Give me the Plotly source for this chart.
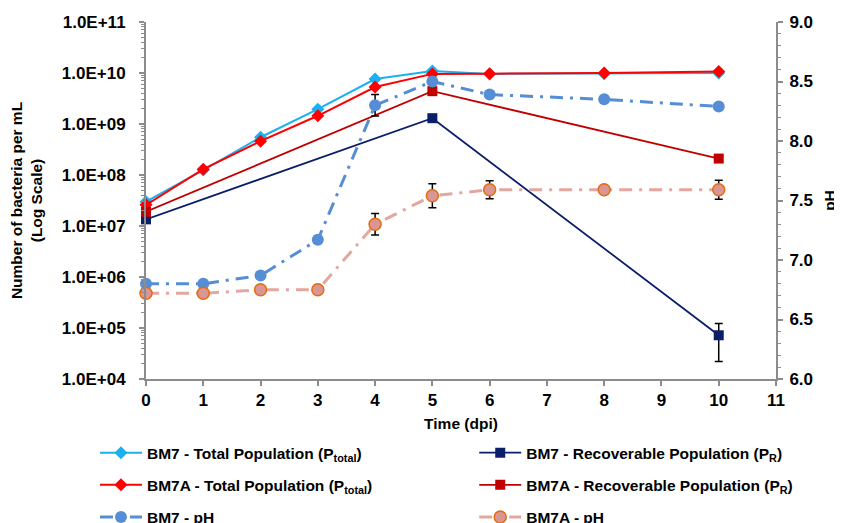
import plotly.graph_objects as go

# ---------------- data ----------------
days_total = [0, 1, 2, 3, 4, 5, 6, 8, 10]
bm7_total = [3.0e7, 1.25e8, 5.5e8, 1.95e9, 7.6e9, 1.1e10, 9.6e9, 9.7e9, 1.0e10]
bm7a_total = [2.6e7, 1.3e8, 4.6e8, 1.45e9, 5.3e9, 9.6e9, 9.7e9, 1.0e10, 1.07e10]

days_recov = [0, 5, 10]
bm7_recov = [1.35e7, 1.3e9, 7.2e4]
bm7_recov_err = [0, 2.0e8, 5.0e4]
bm7a_recov = [1.9e7, 4.4e9, 2.1e8]

days_ph = [0, 1, 2, 3, 4, 5, 6, 8, 10]
bm7_ph = [6.80, 6.80, 6.87, 7.17, 8.30, 8.50, 8.39, 8.35, 8.29]
bm7_ph_err = [0.0, 0.0, 0.02, 0.03, 0.09, 0.0, 0.0, 0.0, 0.0]
bm7a_ph = [6.72, 6.72, 6.75, 6.75, 7.30, 7.54, 7.59, 7.59, 7.59]
bm7a_ph_err = [0.0, 0.02, 0.02, 0.02, 0.09, 0.10, 0.075, 0.0, 0.08]

log_ticks = [1e4, 1e5, 1e6, 1e7, 1e8, 1e9, 1e10, 1e11]
log_tick_text = ["1.0E+04", "1.0E+05", "1.0E+06", "1.0E+07",
                 "1.0E+08", "1.0E+09", "1.0E+10", "1.0E+11"]

# ---------------- styling ----------------
FONT = "Liberation Sans, Arial, sans-serif"
AX = "#8c8c8c"
C_BM7_TOT = "#1CB0F0"
C_BM7A_TOT = "#FF0000"
C_BM7_REC = "#0A1E6A"
C_BM7A_REC = "#C00000"
C_BM7_PH = "#558ED5"
C_BM7A_PH_LINE = "#E3A79F"
C_BM7A_PH_FILL = "#D99694"
C_BM7A_PH_EDGE = "#E46C0A"
DASH = "13px,7px,3px,7px"
TICKFONT = dict(family=FONT, size=17, color="black", weight="bold")
TITLEFONT = dict(family=FONT, size=15.5, color="black", weight="bold")

err_style = dict(type="data", color="black", thickness=1.5, width=4)

fig = go.Figure()

fig.add_trace(go.Scatter(
    x=days_total, y=bm7_total, mode="lines+markers",
    name="BM7 - Total Population (P<sub>total</sub>)",
    line=dict(color=C_BM7_TOT, width=2),
    marker=dict(symbol="diamond", size=10, color=C_BM7_TOT),
    cliponaxis=False, legend="legend", legendgroup="a"))

fig.add_trace(go.Scatter(
    x=days_total, y=bm7a_total, mode="lines+markers",
    name="BM7A - Total Population (P<sub>total</sub>)",
    line=dict(color=C_BM7A_TOT, width=2),
    marker=dict(symbol="diamond", size=10, color=C_BM7A_TOT),
    cliponaxis=False, legend="legend", legendgroup="b"))

fig.add_trace(go.Scatter(
    x=days_ph, y=bm7_ph, mode="lines+markers", yaxis="y2",
    name="BM7 - pH",
    line=dict(color=C_BM7_PH, width=3, dash=DASH),
    marker=dict(symbol="circle", size=12, color=C_BM7_PH),
    error_y=dict(array=bm7_ph_err, **err_style),
    cliponaxis=False, legend="legend", legendgroup="c"))

fig.add_trace(go.Scatter(
    x=days_recov, y=bm7_recov, mode="lines+markers",
    name="BM7 - Recoverable Population (P<sub>R</sub>)",
    line=dict(color=C_BM7_REC, width=1.8),
    marker=dict(symbol="square", size=10, color=C_BM7_REC),
    error_y=dict(array=bm7_recov_err, **err_style),
    cliponaxis=False, legend="legend2", legendgroup="d"))

fig.add_trace(go.Scatter(
    x=days_recov, y=bm7a_recov, mode="lines+markers",
    name="BM7A - Recoverable Population (P<sub>R</sub>)",
    line=dict(color=C_BM7A_REC, width=1.8),
    marker=dict(symbol="square", size=10, color=C_BM7A_REC),
    cliponaxis=False, legend="legend2", legendgroup="e"))

fig.add_trace(go.Scatter(
    x=days_ph, y=bm7a_ph, mode="lines+markers", yaxis="y2",
    name="BM7A - pH",
    line=dict(color=C_BM7A_PH_LINE, width=3, dash=DASH),
    marker=dict(symbol="circle", size=12, color=C_BM7A_PH_FILL,
                line=dict(color=C_BM7A_PH_EDGE, width=1.5)),
    error_y=dict(array=bm7a_ph_err, **err_style),
    cliponaxis=False, legend="legend2", legendgroup="f"))

legend_common = dict(
    font=dict(family=FONT, size=15.5, color="black", weight="bold"),
    bgcolor="rgba(0,0,0,0)", orientation="v", yanchor="top",
    xanchor="left", traceorder="grouped", tracegroupgap=9, itemwidth=42)

# the page body adds an 8px offset, so the figure is 8px smaller than the window
fig.update_layout(
    width=834, height=515,
    margin=dict(l=138, r=66, t=14, b=144, autoexpand=False),
    paper_bgcolor="white", plot_bgcolor="white",
    font=dict(family=FONT, color="black"),
    showlegend=True,
    legend=dict(x=-0.081, y=-0.16, **legend_common),
    legend2=dict(x=0.521, y=-0.16, **legend_common),
    xaxis=dict(
        range=[0, 11], dtick=1, tick0=0,
        showline=True, linecolor=AX, linewidth=2,
        ticks="outside", ticklen=5, tickcolor=AX, tickwidth=1.5,
        showgrid=False, zeroline=False,
        tickfont=TICKFONT,
        title=dict(text="Time (dpi)", standoff=9, font=TITLEFONT),
    ),
    yaxis=dict(
        type="log", range=[4, 11],
        tickmode="array", tickvals=log_ticks, ticktext=log_tick_text,
        showline=True, linecolor=AX, linewidth=2,
        ticks="outside", ticklen=5, tickcolor=AX, tickwidth=1.5,
        ticklabelstandoff=10,
        minor=dict(ticks="outside", ticklen=3, tickcolor=AX, tickwidth=1, dtick="D1"),
        showgrid=False, zeroline=False,
        tickfont=TICKFONT,
        title=dict(text="Number of bacteria per mL<br>(Log Scale)", standoff=15,
                   font=TITLEFONT),
    ),
    yaxis2=dict(
        overlaying="y", side="right", range=[6, 9], dtick=0.5, tick0=6,
        tickformat=".1f",
        showline=True, linecolor=AX, linewidth=2,
        ticks="outside", ticklen=5, tickcolor=AX, tickwidth=1.5,
        ticklabelstandoff=3,
        minor=dict(ticks="outside", ticklen=3, tickcolor=AX, tickwidth=1, dtick=0.1),
        showgrid=False, zeroline=False,
        tickfont=TICKFONT,
        title=dict(text="pH", standoff=12, font=TITLEFONT),
    ),
)

fig.write_html("out.html")
